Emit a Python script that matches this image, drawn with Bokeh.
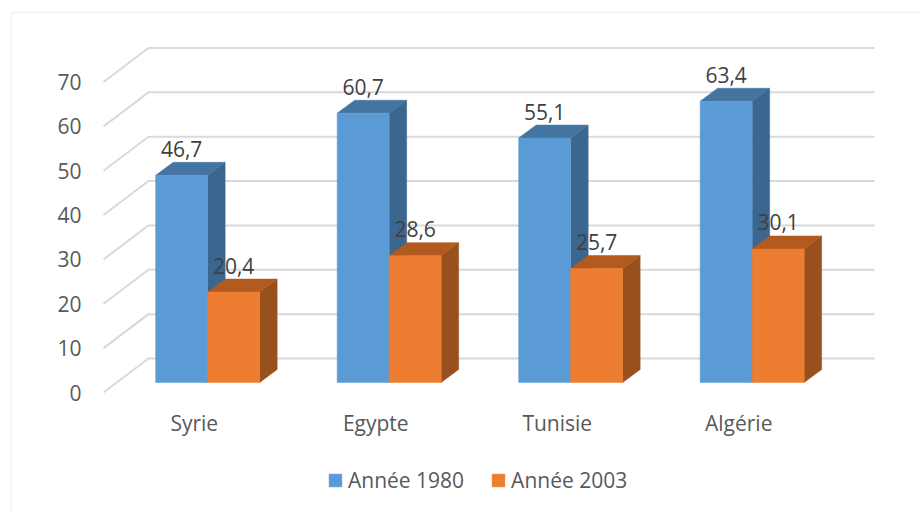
from bokeh.plotting import figure
from bokeh.models import ColumnDataSource, FixedTicker, Legend, LegendItem, BoxAnnotation
from bokeh.core.properties import value
from bokeh.embed import file_html
from bokeh.resources import INLINE

categories = ["Syrie", "Egypte", "Tunisie", "Algérie"]
annee_1980 = [46.7, 60.7, 55.1, 63.4]
annee_2003 = [20.4, 28.6, 25.7, 30.1]
y_ticks = [0, 10, 20, 30, 40, 50, 60, 70]

FONT = "Open Sans"
SIZE = "21px"
PX_X = 181.5          # pixels per category
PX_Y = 4.436          # pixels per value unit
FW, FH = 921, 512

# The frame fills the figure; the axes are pinned to the floor's front corner.
x0 = 0.5 - 103 / PX_X
y0 = -(FH - 392) / PX_Y
p = figure(width=FW, height=FH, output_backend="svg", toolbar_location=None,
           x_range=(x0, x0 + FW / PX_X), y_range=(y0, y0 + FH / PX_Y),
           min_border=0, outline_line_color=None,
           background_fill_color="white", border_fill_color="white")
p.grid.visible = False

# axes
xa, ya = p.xaxis[0], p.yaxis[0]
xa.fixed_location = 0
ya.fixed_location = 0.5
xa.ticker = FixedTicker(ticks=[1, 2, 3, 4])
xa.major_label_overrides = {i + 1: c for i, c in enumerate(categories)}
ya.ticker = FixedTicker(ticks=y_ticks)
for a, standoff in ((xa, 16), (ya, 22)):
    a.axis_line_color = None
    a.major_tick_line_color = None
    a.minor_tick_line_color = None
    a.major_tick_out = 0
    a.major_label_text_font = FONT
    a.major_label_text_font_size = SIZE
    a.major_label_text_color = "#595959"
    a.major_label_standoff = standoff

# perspective offsets, in data units
DEPTH_X, DEPTH_Y = 45 / PX_X, 34 / PX_Y          # wall
BAR_X, BAR_Y = 13.4 / PX_X, 10 / PX_Y            # front of a bar
SIDE_X, SIDE_Y = 17.5 / PX_X, 13 / PX_Y          # depth of a bar
BAR_W = 52 / PX_X

# gridlines on the wall
xs = [[0.5, 0.5 + DEPTH_X, 4.5 + DEPTH_X] for _ in y_ticks]
ys = [[t, t + DEPTH_Y, t + DEPTH_Y] for t in y_ticks]
p.multi_line(xs, ys, line_color="#d9d9d9", line_width=2)


def faces(vals, shift):
    src = dict(left=[], right=[], top=[], bottom=[])
    sx, sy, tx, ty = [], [], [], []
    for i, v in enumerate(vals):
        l = i + 1 + BAR_X + shift * BAR_W
        r = l + BAR_W
        b = BAR_Y
        t = BAR_Y + v
        src["left"].append(l); src["right"].append(r); src["top"].append(t); src["bottom"].append(b)
        sx.append([r, r + SIDE_X, r + SIDE_X, r]); sy.append([b, b + SIDE_Y, t + SIDE_Y, t])
        tx.append([l, l + SIDE_X, r + SIDE_X, r]); ty.append([t, t + SIDE_Y, t + SIDE_Y, t])
    return src, sx, sy, tx, ty


def draw(vals, shift, col, side, top):
    src, sx, sy, tx, ty = faces(vals, shift)
    p.patches(sx, sy, fill_color=side, line_color=side, line_width=0.5)
    p.patches(tx, ty, fill_color=top, line_color=top, line_width=0.5)
    return p.quad(source=ColumnDataSource(src), left="left", right="right", top="top", bottom="bottom",
                  fill_color=col, line_color=col, line_width=0.5)


r1 = draw(annee_1980, -1, "#5b9bd5", "#3a6690", "#4475a1")
r2 = draw(annee_2003, 0, "#ed7d31", "#98501c", "#b25a20")

# data labels
for vals, shift in ((annee_1980, -0.5), (annee_2003, 0.5)):
    lab = ColumnDataSource(dict(
        x=[i + 1 + BAR_X + shift * BAR_W for i in range(4)],
        y=[v + BAR_Y + SIDE_Y for v in vals],
        t=[f"{v:.1f}".replace(".", ",") for v in vals]))
    p.text("x", "y", text="t", source=lab, text_align="center", text_baseline="middle", y_offset=-13.5,
           text_font=value(FONT), text_font_size=SIZE, text_color="#404040")

# legend
legend = Legend(items=[LegendItem(label="Année 1980", renderers=[r1]),
                       LegendItem(label="Année 2003", renderers=[r2])],
                orientation="horizontal", location=(327, 18),
                glyph_width=16, glyph_height=16, label_standoff=5, spacing=26,
                padding=0, margin=0, border_line_color=None, background_fill_alpha=0,
                label_text_font=FONT, label_text_font_size=SIZE, label_text_color="#595959")
p.add_layout(legend, "center")

# chart-area border
p.add_layout(BoxAnnotation(left=11, right=FW + 40, top=12, bottom=FH + 40,
                           left_units="canvas", right_units="canvas", top_units="canvas", bottom_units="canvas",
                           fill_alpha=0, line_color="#d9d9d9", line_width=2))

open("out.html", "w").write(file_html(p, INLINE))
